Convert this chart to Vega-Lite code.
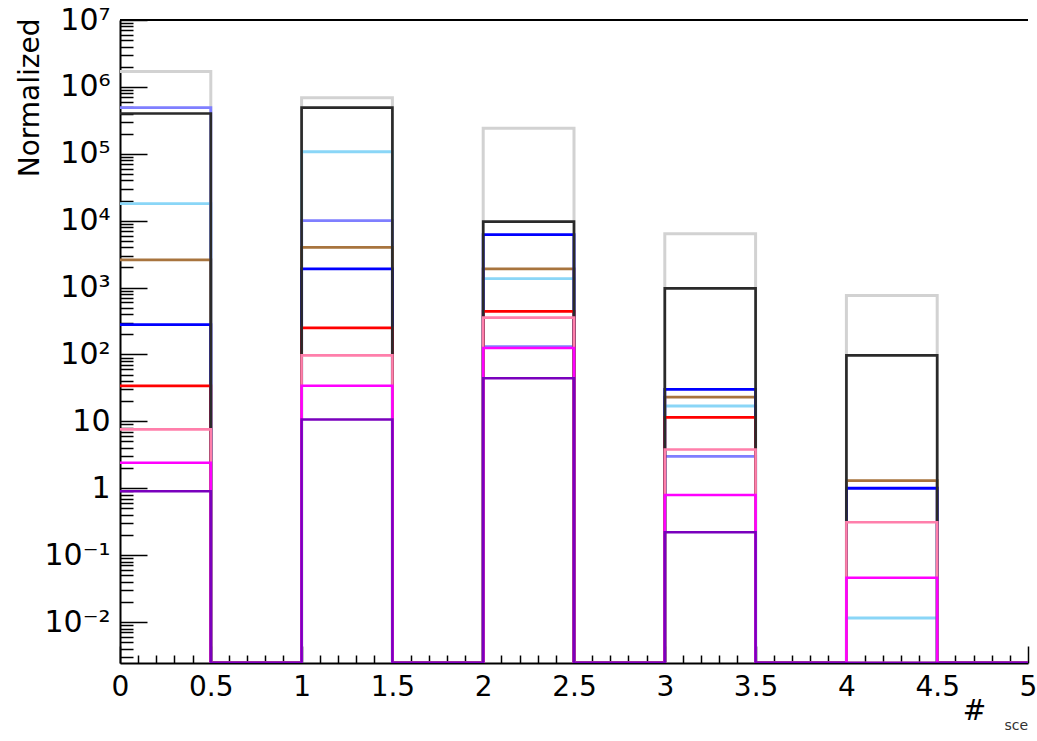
{
  "$schema": "https://vega.github.io/schema/vega-lite/v6.json",
  "width": 908,
  "height": 643,
  "autosize": "none",
  "padding": {"left": 120, "top": 20, "right": 9, "bottom": 78},
  "background": "white",
  "config": {
    "view": {"stroke": null},
    "font": "DejaVu Sans"
  },
  "title": {"text": "sce", "orient": "bottom", "anchor": "end", "frame": "group", "fontSize": 14, "fontWeight": "normal", "color": "#333", "offset": -6, "dx": 0, "font": "DejaVu Sans"},
  "data": {
    "values": [
      {"h": "grey", "x": 0, "y": 1700000}, {"h": "grey", "x": 0.5, "y": 0.001}, {"h": "grey", "x": 1, "y": 690000}, {"h": "grey", "x": 1.5, "y": 0.001}, {"h": "grey", "x": 2, "y": 240000}, {"h": "grey", "x": 2.5, "y": 0.001}, {"h": "grey", "x": 3, "y": 6400}, {"h": "grey", "x": 3.5, "y": 0.001}, {"h": "grey", "x": 4, "y": 760}, {"h": "grey", "x": 4.5, "y": 0.001}, {"h": "grey", "x": 5, "y": 0.001},
      {"h": "lightblue", "x": 0, "y": 18000}, {"h": "lightblue", "x": 0.5, "y": 0.001}, {"h": "lightblue", "x": 1, "y": 107000}, {"h": "lightblue", "x": 1.5, "y": 0.001}, {"h": "lightblue", "x": 2, "y": 1360}, {"h": "lightblue", "x": 2.5, "y": 0.001}, {"h": "lightblue", "x": 3, "y": 17}, {"h": "lightblue", "x": 3.5, "y": 0.001}, {"h": "lightblue", "x": 4, "y": 0.0115}, {"h": "lightblue", "x": 4.5, "y": 0.001}, {"h": "lightblue", "x": 5, "y": 0.001},
      {"h": "lpblue", "x": 0, "y": 490000}, {"h": "lpblue", "x": 0.5, "y": 0.001}, {"h": "lpblue", "x": 1, "y": 10000}, {"h": "lpblue", "x": 1.5, "y": 0.001}, {"h": "lpblue", "x": 2, "y": 131}, {"h": "lpblue", "x": 2.5, "y": 0.001}, {"h": "lpblue", "x": 3, "y": 3.0}, {"h": "lpblue", "x": 3.5, "y": 0.001}, {"h": "lpblue", "x": 4, "y": 0.001}, {"h": "lpblue", "x": 4.5, "y": 0.001}, {"h": "lpblue", "x": 5, "y": 0.001},
      {"h": "brown", "x": 0, "y": 2600}, {"h": "brown", "x": 0.5, "y": 0.001}, {"h": "brown", "x": 1, "y": 4000}, {"h": "brown", "x": 1.5, "y": 0.001}, {"h": "brown", "x": 2, "y": 1900}, {"h": "brown", "x": 2.5, "y": 0.001}, {"h": "brown", "x": 3, "y": 23}, {"h": "brown", "x": 3.5, "y": 0.001}, {"h": "brown", "x": 4, "y": 1.3}, {"h": "brown", "x": 4.5, "y": 0.001}, {"h": "brown", "x": 5, "y": 0.001},
      {"h": "blue", "x": 0, "y": 280}, {"h": "blue", "x": 0.5, "y": 0.001}, {"h": "blue", "x": 1, "y": 1900}, {"h": "blue", "x": 1.5, "y": 0.001}, {"h": "blue", "x": 2, "y": 6200}, {"h": "blue", "x": 2.5, "y": 0.001}, {"h": "blue", "x": 3, "y": 30}, {"h": "blue", "x": 3.5, "y": 0.001}, {"h": "blue", "x": 4, "y": 1.0}, {"h": "blue", "x": 4.5, "y": 0.001}, {"h": "blue", "x": 5, "y": 0.001},
      {"h": "red", "x": 0, "y": 34}, {"h": "red", "x": 0.5, "y": 0.001}, {"h": "red", "x": 1, "y": 250}, {"h": "red", "x": 1.5, "y": 0.001}, {"h": "red", "x": 2, "y": 440}, {"h": "red", "x": 2.5, "y": 0.001}, {"h": "red", "x": 3, "y": 11.5}, {"h": "red", "x": 3.5, "y": 0.001}, {"h": "red", "x": 4, "y": 0.001}, {"h": "red", "x": 4.5, "y": 0.001}, {"h": "red", "x": 5, "y": 0.001},
      {"h": "black", "x": 0, "y": 400000}, {"h": "black", "x": 0.5, "y": 0.001}, {"h": "black", "x": 1, "y": 490000}, {"h": "black", "x": 1.5, "y": 0.001}, {"h": "black", "x": 2, "y": 9700}, {"h": "black", "x": 2.5, "y": 0.001}, {"h": "black", "x": 3, "y": 970}, {"h": "black", "x": 3.5, "y": 0.001}, {"h": "black", "x": 4, "y": 97}, {"h": "black", "x": 4.5, "y": 0.001}, {"h": "black", "x": 5, "y": 0.001},
      {"h": "pink", "x": 0, "y": 7.6}, {"h": "pink", "x": 0.5, "y": 0.001}, {"h": "pink", "x": 1, "y": 97}, {"h": "pink", "x": 1.5, "y": 0.001}, {"h": "pink", "x": 2, "y": 355}, {"h": "pink", "x": 2.5, "y": 0.001}, {"h": "pink", "x": 3, "y": 3.8}, {"h": "pink", "x": 3.5, "y": 0.001}, {"h": "pink", "x": 4, "y": 0.31}, {"h": "pink", "x": 4.5, "y": 0.001}, {"h": "pink", "x": 5, "y": 0.001},
      {"h": "magenta", "x": 0, "y": 2.4}, {"h": "magenta", "x": 0.5, "y": 0.001}, {"h": "magenta", "x": 1, "y": 34}, {"h": "magenta", "x": 1.5, "y": 0.001}, {"h": "magenta", "x": 2, "y": 125}, {"h": "magenta", "x": 2.5, "y": 0.001}, {"h": "magenta", "x": 3, "y": 0.79}, {"h": "magenta", "x": 3.5, "y": 0.001}, {"h": "magenta", "x": 4, "y": 0.046}, {"h": "magenta", "x": 4.5, "y": 0.001}, {"h": "magenta", "x": 5, "y": 0.001},
      {"h": "purple", "x": 0, "y": 0.9}, {"h": "purple", "x": 0.5, "y": 0.001}, {"h": "purple", "x": 1, "y": 10.7}, {"h": "purple", "x": 1.5, "y": 0.001}, {"h": "purple", "x": 2, "y": 44}, {"h": "purple", "x": 2.5, "y": 0.001}, {"h": "purple", "x": 3, "y": 0.22}, {"h": "purple", "x": 3.5, "y": 0.001}, {"h": "purple", "x": 4, "y": 0.001}, {"h": "purple", "x": 4.5, "y": 0.001}, {"h": "purple", "x": 5, "y": 0.001}
    ]
  },
  "layer": [
    {
      "mark": {"type": "line", "interpolate": "step-after", "clip": true},
      "encoding": {
        "x": {
          "field": "x", "type": "quantitative",
          "scale": {"domain": [0, 5], "nice": false, "zero": false},
          "axis": {
            "title": "#",
            "titleFontSize": 28,
            "titleFontWeight": "normal",
            "titleFont": "DejaVu Sans",
            "titleX": 854,
            "titleY": 48,
            "titleAlign": "center",
            "titleBaseline": "middle",
            "values": [0,0.1,0.2,0.3,0.4,0.5,0.6,0.7,0.8,0.9,1,1.1,1.2,1.3,1.4,1.5,1.6,1.7,1.8,1.9,2,2.1,2.2,2.3,2.4,2.5,2.6,2.7,2.8,2.9,3,3.1,3.2,3.3,3.4,3.5,3.6,3.7,3.8,3.9,4,4.1,4.2,4.3,4.4,4.5,4.6,4.7,4.8,4.9,5],
            "labelExpr": "abs(datum.value*2 - round(datum.value*2)) < 0.001 ? format(datum.value, '~g') : ''",
            "labelFontSize": 28,
            "labelColor": "black",
            "labelPadding": 27,
            "labelFlush": false,
            "labelOverlap": false,
            "grid": false,
            "domainColor": "black",
            "domainWidth": 2,
            "tickColor": "black",
            "tickWidth": 1.5,
            "tickSize": {"condition": {"test": "abs(datum.value*2 - round(datum.value*2)) < 0.001", "value": -17}, "value": -8}
          }
        },
        "y": {
          "field": "y", "type": "quantitative",
          "scale": {"type": "log", "domain": [0.00244, 10000000], "nice": false, "clamp": true},
          "axis": {
            "title": "Normalized",
            "titleFontSize": 28,
            "titleFontWeight": "normal",
            "titleFont": "DejaVu Sans",
            "titleAngle": 270,
            "titleX": -90,
            "titleY": -2,
            "titleAlign": "right",
            "titleBaseline": "middle",
            "values": [0.003,0.004,0.005,0.006,0.007,0.008,0.009,0.01,0.02,0.03,0.04,0.05,0.06,0.07,0.08,0.09,0.1,0.2,0.3,0.4,0.5,0.6,0.7,0.8,0.9,1,2,3,4,5,6,7,8,9,10,20,30,40,50,60,70,80,90,100,200,300,400,500,600,700,800,900,1000,2000,3000,4000,5000,6000,7000,8000,9000,10000,20000,30000,40000,50000,60000,70000,80000,90000,100000,200000,300000,400000,500000,600000,700000,800000,900000,1000000,2000000,3000000,4000000,5000000,6000000,7000000,8000000,9000000,10000000],
            "labelExpr": "abs(log(datum.value)/LN10 - round(log(datum.value)/LN10)) > 0.001 ? '' : (round(log(datum.value)/LN10) == 0 ? '1' : (round(log(datum.value)/LN10) == 1 ? '10' : '10' + (round(log(datum.value)/LN10) < 0 ? '⁻' : '') + ['⁰','¹','²','³','⁴','⁵','⁶','⁷','⁸','⁹'][abs(round(log(datum.value)/LN10))]))",
            "labelFontSize": 30,
            "labelColor": "black",
            "labelPadding": 37,
            "labelFlush": false,
            "labelOverlap": false,
            "grid": false,
            "domainColor": "black",
            "domainWidth": 2,
            "tickColor": "black",
            "tickWidth": 1.5,
            "tickSize": {"condition": {"test": "abs(log(datum.value)/LN10 - round(log(datum.value)/LN10)) < 0.001", "value": -27}, "value": -13}
          }
        },
        "color": {
          "field": "h", "type": "nominal", "legend": null,
          "scale": {
            "domain": ["grey","lightblue","lpblue","brown","blue","red","black","pink","magenta","purple"],
            "range": ["#d2d2d2","#8ad6f7","#7f7fff","#a8743e","#0000ff","#ff0000","#2a2a2a","#ff7fab","#ff00ff","#7a00bd"]
          }
        },
        "strokeWidth": {
          "field": "h", "type": "nominal", "legend": null,
          "scale": {
            "domain": ["grey","lightblue","lpblue","brown","blue","red","black","pink","magenta","purple"],
            "range": [3, 2.5, 3, 2.5, 3.5, 3.5, 2, 3, 2.5, 3]
          }
        }
      }
    },
    {
      "mark": {"type": "rule", "color": "black", "strokeWidth": 2},
      "encoding": {"y": {"datum": 10000000}}
    }
  ]
}
